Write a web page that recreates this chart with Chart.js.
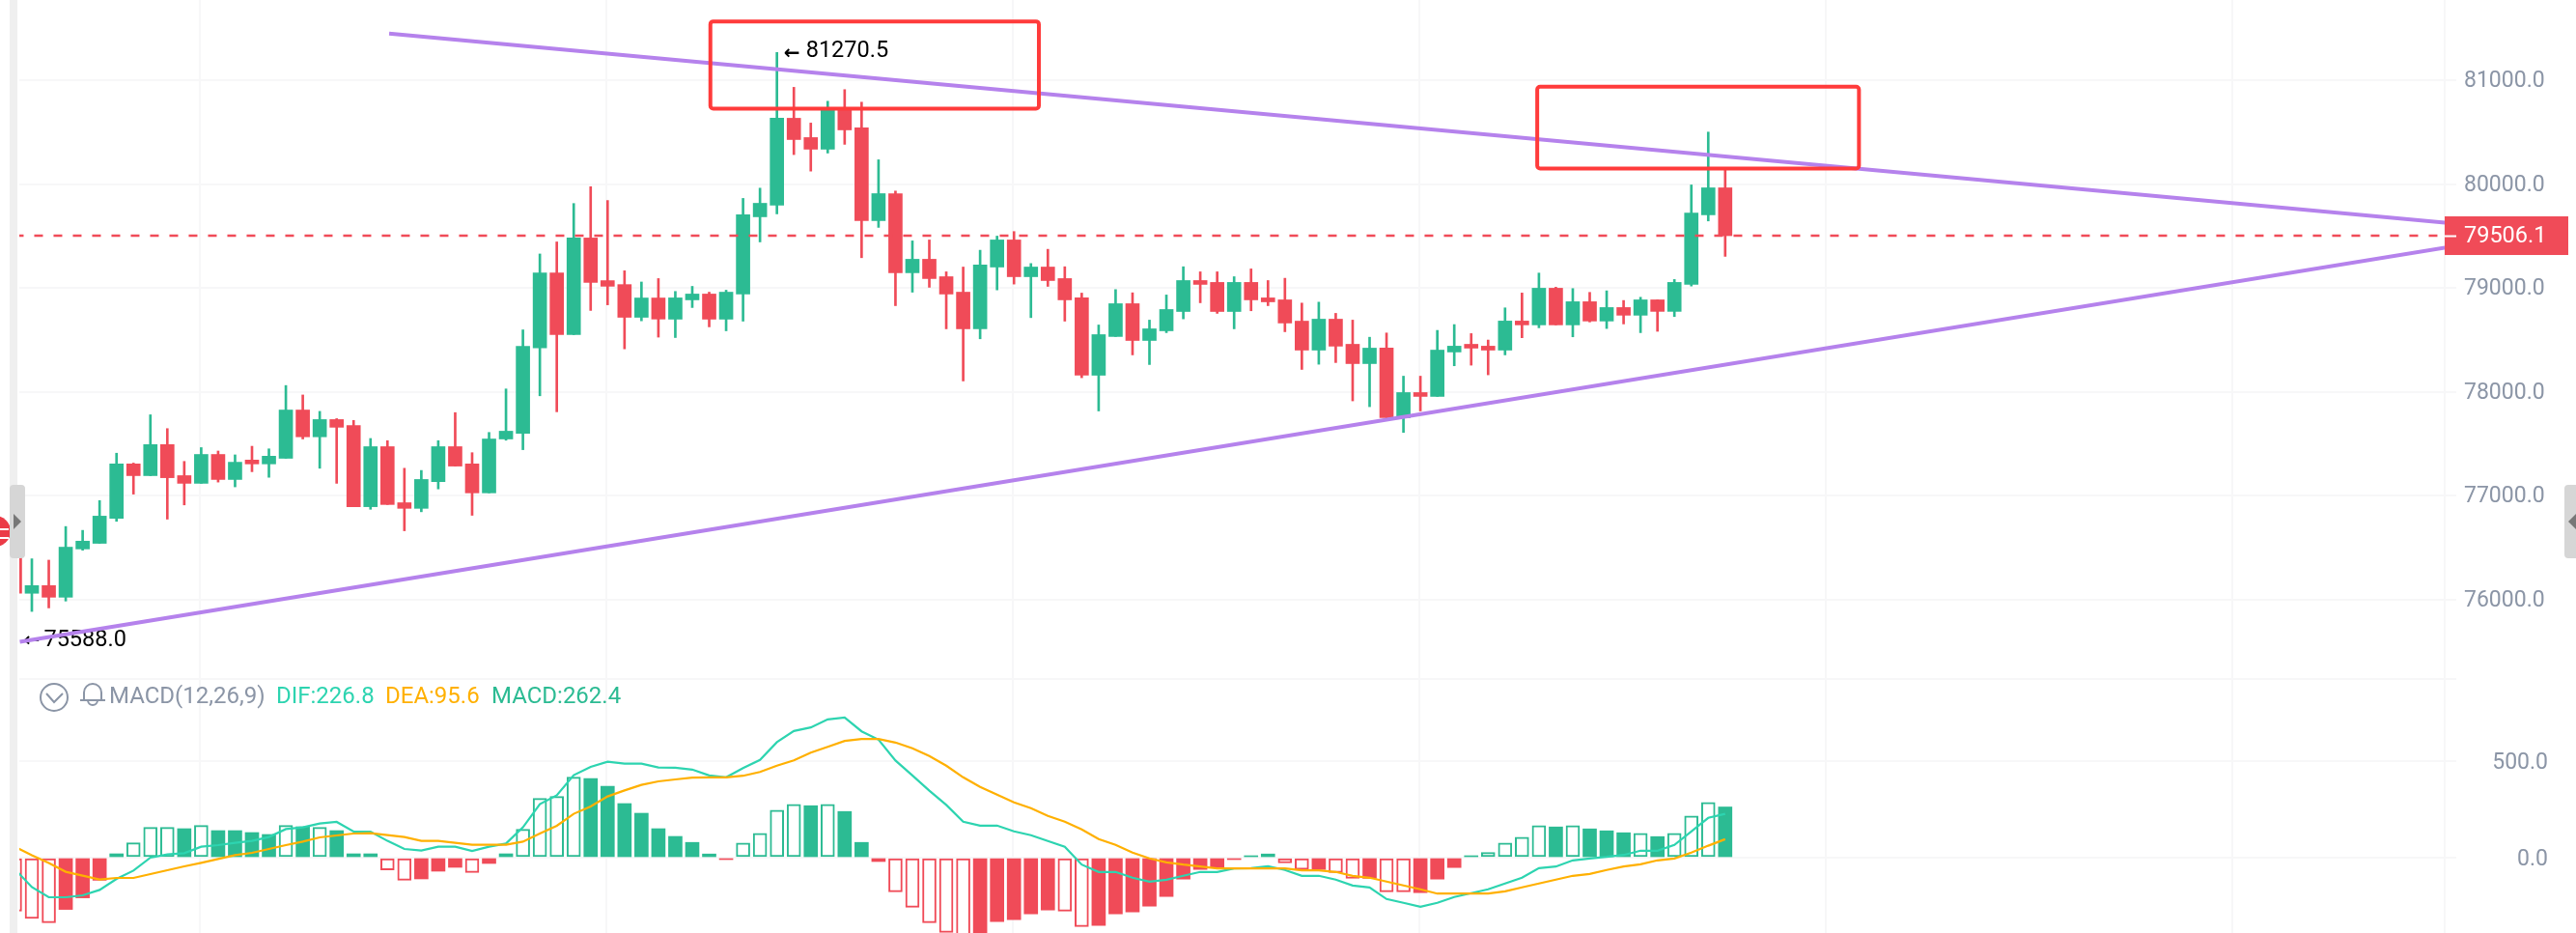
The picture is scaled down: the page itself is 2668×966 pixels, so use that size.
<!DOCTYPE html>
<html>
<head>
<meta charset="utf-8">
<title>MACD candles</title>
<script src="https://cdn.jsdelivr.net/npm/chart.js@4"></script>
<style>
  html, body { margin: 0; padding: 0; background: #fff; overflow: hidden; }
  canvas { display: block; }
</style>
</head>
<body>
<canvas id="kline" width="2668" height="966"></canvas>
<script>
// candles, first one is cut off by the left edge
const firstCandle = -1;
const opens = [76800,76062,76136,76024,76489,76543,76784,77308,77195,77494,77195,77121,77399,77158,77345,77308,77362,77827,77569,77735,77677,76896,77474,76934,76880,77137,77474,77308,77029,77548,77602,78425,79147,78553,79484,79073,79035,78720,78906,78702,78888,78944,78702,78944,79688,79800,80637,80451,80339,80730,80544,79651,79911,79149,79279,79111,78962,78609,79204,79465,79111,79204,79093,78907,78162,78535,78851,78497,78590,78776,79074,79056,78776,79056,78907,78888,78683,78404,78702,78460,78274,78423,77753,77995,77958,78386,78460,78442,78404,78684,78647,79000,78647,78870,78684,78814,78740,78888,78777,79037,79707,79967];
const closes = [76062,76136,76024,76506,76564,76805,77308,77195,77494,77175,77121,77399,77158,77324,77308,77382,77827,77569,77735,77661,76896,77474,76917,76880,77158,77474,77287,77029,77548,77623,78441,79147,78553,79484,79056,79019,78720,78906,78703,78907,78944,78702,78962,79707,79818,80637,80432,80339,80730,80525,79651,79911,79149,79279,79093,78944,78609,79223,79465,79111,79204,79074,78888,78162,78553,78851,78497,78609,78795,79074,79037,78776,79056,78888,78869,78665,78404,78702,78442,78274,78423,77753,77995,77958,78404,78442,78423,78404,78684,78647,79000,78647,78870,78684,78814,78740,78888,78777,79056,79725,79967,79506.1];
const highs = [76900,76394,76381,76705,76668,76955,77411,77316,77781,77648,77332,77465,77432,77395,77478,77453,78063,77972,77814,77744,77727,77553,77532,77266,77245,77532,77802,77416,77611,78030,78599,79330,79446,79816,79978,79845,79168,79060,79093,78969,79018,78962,78981,79865,79964,81270.5,80935,80591,80801,80913,80792,80237,79936,79456,79465,79158,79204,79366,79502,79546,79238,79375,79207,78953,78646,78987,78956,78693,78935,79207,79158,79158,79111,79186,79074,79096,78857,78866,78758,78693,78528,78569,78153,78153,78594,78650,78563,78501,78811,78954,79146,79010,78997,78960,78975,78882,78913,78888,79084,79995,80504,80144];
const lows = [76000,75887,75921,75987,76477,76543,76755,77017,77195,76776,76913,77121,77133,77087,77233,77179,77362,77548,77266,77121,76896,76871,76917,76664,76847,77067,77287,76813,77029,77536,77445,77964,77810,78553,78786,78840,78416,78686,78529,78525,78814,78628,78590,78683,79446,79716,80287,80128,80302,80386,79294,79586,78832,78962,79009,78609,78107,78513,78984,79040,78717,79018,78683,78138,77818,78535,78358,78265,78572,78705,78860,78758,78609,78783,78832,78581,78218,78268,78284,77915,77859,77744,77611,77818,77958,78253,78259,78166,78358,78523,78619,78647,78532,78675,78612,78656,78572,78585,78727,79021,79648,79307];

// MACD panel
const macdValues = [-277,-315,-337,-268,-208,-117,20,77,157,157,150,167,140,140,130,120,167,160,157,140,20,20,-63,-117,-110,-70,-50,-77,-30,20,147,307,317,417,410,370,280,230,150,110,79,19,-10,76,126,246,276,269,276,239,79,-20,-177,-257,-337,-387,-420,-420,-331,-321,-291,-271,-277,-357,-351,-291,-281,-251,-201,-111,-61,-51,-10,10,19,-27,-61,-61,-77,-107,-107,-177,-177,-181,-111,-51,10,27,76,106,166,159,166,149,139,129,126,109,126,216,286,262.4];
const macdHollow = [-1,0,1,6,7,8,10,15,17,21,22,26,29,30,31,32,42,43,44,45,47,51,52,53,54,55,61,62,74,75,77,78,80,81,86,87,88,89,91,95,97,98,99];
const difValues = [-60,-152,-205,-205,-195,-167,-110,-67,0,17,23,57,65,77,87,107,148,157,177,185,135,135,87,45,37,57,57,35,57,73,157,277,323,427,470,497,487,487,467,466,456,426,416,464,506,598,656,674,716,726,654,611,503,426,347,273,186,166,166,136,116,86,56,-36,-74,-74,-104,-124,-114,-94,-74,-74,-56,-54,-44,-64,-94,-94,-114,-144,-154,-214,-234,-254,-234,-204,-184,-164,-134,-104,-54,-46,-14,-4,4,14,36,36,66,136,206,226.8];
const deaValues = [57,12,-28,-73,-93,-113,-105,-105,-85,-65,-45,-27,-7,13,25,45,65,83,105,115,125,127,117,107,87,87,77,67,67,67,83,125,165,227,265,317,348,377,395,405,414,416,416,424,444,476,504,544,574,604,614,614,596,566,526,476,416,366,326,286,256,216,186,146,96,66,26,-4,-24,-36,-46,-56,-56,-56,-56,-56,-66,-66,-74,-94,-104,-124,-144,-164,-186,-186,-186,-186,-174,-154,-134,-114,-94,-84,-64,-46,-34,-14,-4,26,62,95.6];

// axes
const priceTicks = [76000,77000,78000,79000,80000,81000];
const macdTicks = [0,500];
const macdPanelTop = 925;
const gridCandles = [9.95,33.95,57.95,81.95,105.95,129.95];

// drawn lines and notes, in candle index / price
const lastPrice = 79506.1;
const upperTrendX = [21.1,142.5], upperTrendY = [81452,79632];
const lowerTrendX = [-0.71,142.5], lowerTrendY = [75595,79391];
const notedHigh = { candle: 44, price: 81270.5 };
const notedLow = { candle: -1, price: 75588.0 };
const boxes = [
  { x0: 40.07, x1: 59.47, top: 81570, bottom: 80730 },
  { x0: 88.9, x1: 107.9, top: 80941, bottom: 80153 }
];

const GREEN = '#2cbb93', RED = '#f04b58', PURPLE = '#b582ec', GRID = '#f7f7f8';
const DIF = '#2dd4b0', DEA = '#ffb000', GREY = '#8b95a6', BOX = '#ff3b3b';

const idx = opens.map((_, i) => i + firstCandle);
const candleColor = opens.map((o, i) => closes[i] >= o ? GREEN : RED);
const macdColor = macdValues.map(v => v >= 0 ? GREEN : RED);
const isHollow = idx.map(i => macdHollow.includes(i));
const xy = (xs, ys) => xs.map((x, i) => ({ x, y: ys[i] }));

// the edge labels must not pull the plot area in
const noEdgePadding = s => { s.paddingTop = 0; s.paddingBottom = 0; };

const overlay = {
  id: 'overlay',
  beforeDatasetsDraw(chart) {
    const { ctx, scales: { x, y } } = chart;
    ctx.save();
    ctx.fillStyle = '#000';
    ctx.textBaseline = 'middle';
    ctx.textAlign = 'left';
    let px = x.getPixelForValue(notedHigh.candle), py = y.getPixelForValue(notedHigh.price);
    ctx.font = 'bold 20px "DejaVu Sans"';
    ctx.fillText('←', px + 7, py + 1);
    ctx.font = '23.5px Roboto';
    ctx.fillText(notedHigh.price.toFixed(1), px + 30, py - 1);
    px = x.getPixelForValue(notedLow.candle); py = y.getPixelForValue(notedLow.price);
    ctx.font = 'bold 20px "DejaVu Sans"';
    ctx.fillText('←', px + 9, py - 1);
    ctx.font = '23.5px Roboto';
    ctx.fillText(notedLow.price.toFixed(1), px + 30, py - 2.5);
    ctx.restore();
  },
  afterDraw(chart) {
    const { ctx, scales: { x, y, yMacd } } = chart;
    ctx.save();

    // drawn rectangles
    ctx.strokeStyle = BOX;
    ctx.lineWidth = 4;
    boxes.forEach(b => {
      const l = x.getPixelForValue(b.x0), r = x.getPixelForValue(b.x1);
      const t = y.getPixelForValue(b.top), bt = y.getPixelForValue(b.bottom);
      ctx.beginPath();
      ctx.roundRect(l, t, r - l, bt - t, 3);
      ctx.stroke();
    });

    // MACD axis labels, right aligned with the price labels
    ctx.fillStyle = GREY;
    ctx.font = '23px Roboto';
    ctx.textBaseline = 'middle';
    ctx.textAlign = 'right';
    macdTicks.forEach(v => ctx.fillText(v.toFixed(1), 2639, yMacd.getPixelForValue(v) + 2));

    // last price tag
    const ly = y.getPixelForValue(lastPrice);
    ctx.fillStyle = RED;
    ctx.fillRect(2532, ly - 20, 128, 40);
    ctx.fillStyle = '#fff';
    ctx.fillRect(2532, ly - 0.5, 12, 2);
    ctx.font = '23.5px Roboto';
    ctx.textAlign = 'left';
    ctx.fillText(lastPrice.toFixed(1), 2552, ly + 1);

    // MACD legend
    const parts = [
      ['MACD(12,26,9)', GREY, 113],
      ['DIF:226.8', DIF, 286],
      ['DEA:95.6', DEA, 399],
      ['MACD:262.4', GREEN, 509]
    ];
    ctx.font = '24px Roboto';
    parts.forEach(([txt, col, tx]) => {
      ctx.fillStyle = col;
      ctx.fillText(txt, tx, 722);
    });

    // collapse icon and bell
    ctx.strokeStyle = GREY;
    ctx.lineWidth = 2;
    ctx.beginPath();
    ctx.arc(56, 722, 14, 0, Math.PI * 2);
    ctx.moveTo(48, 718); ctx.lineTo(56, 727); ctx.lineTo(65, 718);
    ctx.stroke();
    ctx.beginPath();
    ctx.moveTo(83, 725); ctx.lineTo(109, 725);
    ctx.moveTo(87, 725); ctx.lineTo(87, 717);
    ctx.arc(96, 717, 9, Math.PI, 0);
    ctx.lineTo(105, 725);
    ctx.moveTo(91, 725);
    ctx.arc(96, 725, 5, Math.PI, 0, true);
    ctx.stroke();

    // side strip and handles
    ctx.fillStyle = '#efefef';
    ctx.fillRect(10, 0, 8, 966);
    ctx.fillStyle = '#eb3b47';
    ctx.beginPath();
    ctx.arc(-5, 550, 16, 0, Math.PI * 2);
    ctx.fill();
    ctx.fillStyle = '#fff';
    ctx.fillRect(0, 547, 9, 2);
    ctx.fillRect(0, 556, 9, 2);
    ctx.fillStyle = '#d6d6d6';
    ctx.beginPath();
    ctx.roundRect(10, 502, 16, 76, 4);
    ctx.roundRect(2656, 502, 16, 76, 4);
    ctx.fill();
    ctx.fillStyle = '#777';
    ctx.beginPath();
    ctx.moveTo(14, 532); ctx.lineTo(22, 540); ctx.lineTo(14, 548);
    ctx.moveTo(2668, 532); ctx.lineTo(2660, 540); ctx.lineTo(2668, 548);
    ctx.fill();
    ctx.restore();
  }
};

new Chart(document.getElementById('kline'), {
  type: 'bar',
  plugins: [overlay],
  data: {
    datasets: [
      { type: 'line', order: 0, yAxisID: 'y', data: xy([idx[0], 142.5], [lastPrice, lastPrice]), borderColor: RED, borderWidth: 2.5, borderDash: [9, 11], pointRadius: 0 },
      { type: 'line', order: 1, yAxisID: 'y', data: xy(upperTrendX, upperTrendY), borderColor: PURPLE, borderWidth: 4, pointRadius: 0 },
      { type: 'line', order: 1, yAxisID: 'y', data: xy(lowerTrendX, lowerTrendY), borderColor: PURPLE, borderWidth: 4, pointRadius: 0 },
      { type: 'line', order: 2, yAxisID: 'yMacd', data: xy(idx, deaValues), borderColor: DEA, borderWidth: 2.2, pointRadius: 0 },
      { type: 'line', order: 3, yAxisID: 'yMacd', data: xy(idx, difValues), borderColor: DIF, borderWidth: 2.2, pointRadius: 0 },
      { order: 5, yAxisID: 'y', grouped: false, barThickness: 14, data: idx.map((x, i) => ({ x, y: [opens[i], closes[i]] })), backgroundColor: candleColor, borderWidth: 0 },
      { order: 6, yAxisID: 'y', grouped: false, barThickness: 2, data: idx.map((x, i) => ({ x, y: [lows[i], highs[i]] })), backgroundColor: candleColor, borderWidth: 0 },
      { order: 7, yAxisID: 'yMacd', grouped: false, barThickness: 14, data: xy(idx, macdValues),
        backgroundColor: macdColor.map((c, i) => isHollow[i] ? '#fff' : c),
        borderColor: macdColor,
        borderWidth: isHollow.map(h => h ? 2 : 0),
        borderSkipped: false }
    ]
  },
  options: {
    responsive: false,
    animation: false,
    devicePixelRatio: 1,
    events: [],
    layout: { padding: { left: 20, right: 0, top: 0, bottom: 0 } },
    plugins: { legend: { display: false }, tooltip: { enabled: false } },
    scales: {
      x: {
        type: 'linear', min: -0.741, max: 142.49, offset: false,
        grid: { offset: false, color: GRID, lineWidth: 2, drawTicks: false },
        border: { display: false },
        ticks: { display: false },
        afterBuildTicks(s) { s.ticks = gridCandles.map(value => ({ value })); }
      },
      // both value axes run over the full height, MACD sits on top with no width of its own
      yMacd: {
        position: 'right', weight: 0, min: -390, max: 4440,
        grid: { color: GRID, lineWidth: 2, tickLength: 12 },
        border: { display: false },
        ticks: { display: false },
        afterBuildTicks(s) { s.ticks = [...macdTicks, macdPanelTop].map(value => ({ value })); },
        afterFit(s) { s.width = 0; noEdgePadding(s); }
      },
      y: {
        position: 'right', weight: 1, min: 72790, max: 81776,
        grid: { color: GRID, lineWidth: 2, tickLength: 12 },
        border: { color: GRID, width: 2 },
        ticks: { color: GREY, font: { family: 'Roboto', size: 23 }, padding: 8, labelOffset: 1, autoSkip: false, callback: v => v.toFixed(1) },
        afterBuildTicks(s) { s.ticks = priceTicks.map(value => ({ value })); },
        afterFit(s) { s.width = 136; noEdgePadding(s); }
      }
    }
  }
});
</script>
</body>
</html>
